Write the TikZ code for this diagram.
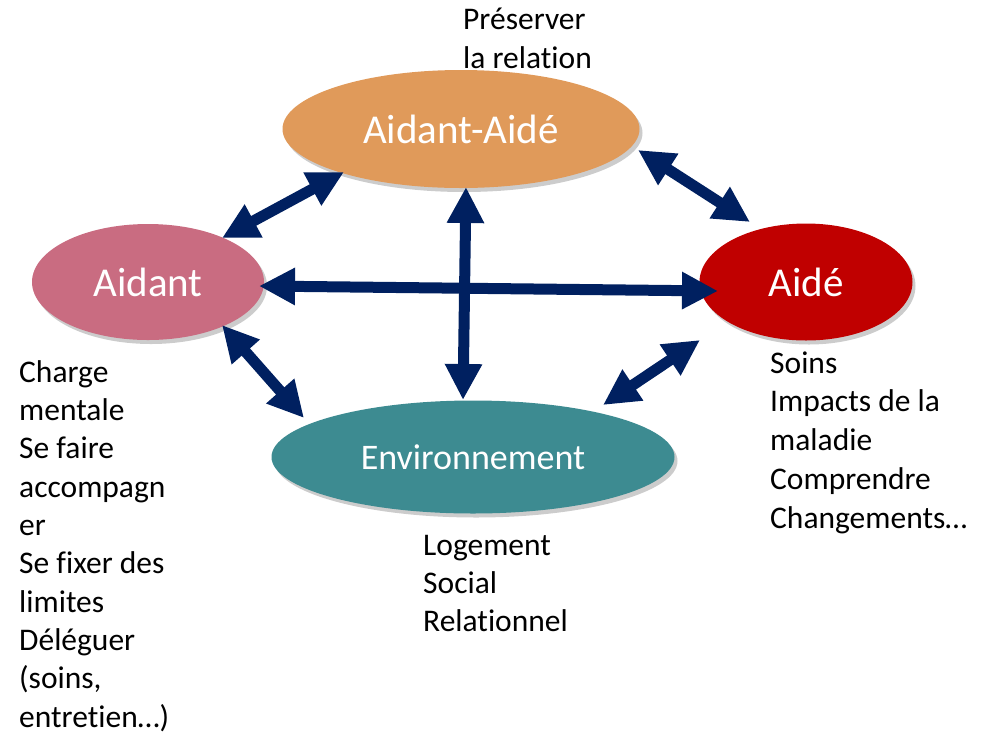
\documentclass[tikz,border=0pt]{standalone}
\usepackage{fontspec}
\setmainfont[Ligatures=NoCommon]{Carlito}
\usetikzlibrary{shapes.geometric,arrows.meta,shadows}
\definecolor{cOrange}{HTML}{E09A5A}
\definecolor{cPink}{HTML}{C96C81}
\definecolor{cRed}{HTML}{C00000}
\definecolor{cTeal}{HTML}{3D8B91}
\definecolor{cNavy}{HTML}{002060}
\tikzset{
  bubble/.style={ellipse, inner sep=0pt, text=white, font=\fontsize{41}{48}\selectfont,
    drop shadow={shadow xshift=3pt, shadow yshift=-4pt, opacity=0.2, fill=black}},
  notes/.style={anchor=base west, align=left, inner sep=0pt, text=black,
    font=\fontsize{31.5}{38.3}\selectfont},
  link/.style={draw=cNavy, line width=11pt, {Triangle[length=36pt,width=35pt]}-{Triangle[length=36pt,width=35pt]}}
}
\begin{document}
\begin{tikzpicture}[x=1pt,y=-1pt]
\useasboundingbox (0,0) rectangle (986,732);
\node[bubble, fill=cOrange, minimum width=357pt, minimum height=118pt] (aa) at (461,129) {Aidant-Aidé};
\node[bubble, fill=cPink, minimum width=232pt, minimum height=116pt] (ad) at (148,282) {Aidant};
\node[bubble, fill=cRed, minimum width=213pt, minimum height=117pt] (ae) at (806,282) {Aidé};
\node[bubble, fill=cTeal, minimum width=403pt, minimum height=113pt, font=\fontsize{36}{42}\selectfont] (env) at (473,457) {Environnement};

\coordinate (p1a) at (344,172); \coordinate (p1b) at (222,238);
\coordinate (p2a) at (638,150); \coordinate (p2b) at (750,222);
\coordinate (p3a) at (259,286); \coordinate (p3b) at (718,291);
\coordinate (p4a) at (466,187); \coordinate (p4b) at (463,400);
\coordinate (p5a) at (222,325); \coordinate (p5b) at (304,418);
\coordinate (p6a) at (700,340); \coordinate (p6b) at (603,405);
\draw[link] (p1a) -- (p1b);
\draw[link] (p2a) -- (p2b);
\draw[link] (p3a) -- (p3b);
\draw[link] (p4a) -- (p4b);
\draw[link] (p5a) -- (p5b);
\draw[link] (p6a) -- (p6b);

\node[notes] (t1) at (463,68) {Préserver\\la relation};
\node[notes] (t2) at (19,727) {Charge\\mentale\\Se faire\\accompagn\\er\\Se fixer des\\limites\\Déléguer\\(soins,\\entretien…)};
\node[notes, font=\fontsize{31.5}{38.7}\selectfont] (t3) at (770,528) {Soins\\Impacts de la\\maladie\\Comprendre\\Changements…};
\node[notes, font=\fontsize{31.5}{38}\selectfont] (t4) at (423,631) {Logement\\Social\\Relationnel};
\end{tikzpicture}
\end{document}
